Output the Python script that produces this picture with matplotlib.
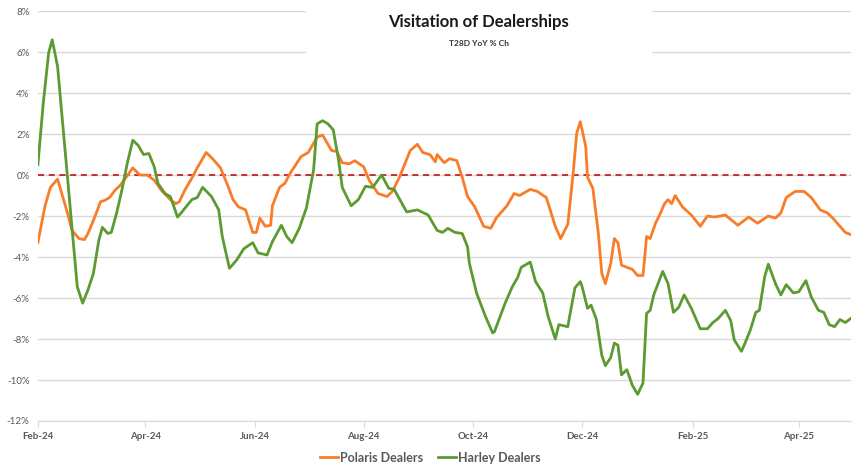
import numpy as np
import pandas as pd
import matplotlib
matplotlib.use("Agg")
import matplotlib.pyplot as plt
import matplotlib.dates as mdates
from matplotlib.patches import Rectangle

plt.rcParams['font.family'] = ['Lato', 'DejaVu Sans']

start = pd.Timestamp("2024-02-01")

# days since 2024-02-01, YoY % change (T28D)
polaris_day = [0, 4, 7, 11, 13, 17, 19, 23, 26, 28, 32, 35, 37, 40, 43, 46, 49, 53, 57, 61,
               65, 69, 74, 77, 79, 82, 86, 89, 94, 97, 102, 106, 109, 112, 116, 120, 122, 124,
               127, 130, 131, 135, 138, 141, 147, 151, 156, 159, 164, 167, 170, 174, 177, 182,
               185, 190, 195, 198, 202, 208, 212, 215, 219, 222, 223, 227, 230, 234, 237, 240,
               244, 249, 253, 256, 262, 266, 269, 275, 279, 284, 289, 292, 296, 299, 301, 303,
               306, 307, 310, 313, 315, 317, 320, 322, 324, 326, 329, 332, 335, 338, 340, 342,
               345, 347, 350, 352, 354, 356, 360, 365, 370, 374, 378, 384, 391, 397, 402, 408,
               412, 415, 418, 423, 428, 432, 437, 441, 444, 448, 451, 454]
polaris_val = [-3.3, -1.5, -0.6, -0.2, -0.8, -2.0, -2.7, -3.1, -3.15, -2.85, -2.0, -1.3, -1.25,
               -1.1, -0.75, -0.5, -0.15, 0.35, 0.0, 0.0, -0.25, -0.75, -1.2, -1.4, -1.3, -0.75,
               -0.15, 0.35, 1.1, 0.85, 0.35, -0.5, -1.2, -1.55, -1.7, -2.8, -2.8, -2.1, -2.5,
               -2.45, -1.5, -0.6, -0.4, 0.1, 0.9, 1.1, 1.85, 1.95, 1.2, 1.15, 0.6, 0.55, 0.7,
               0.4, -0.25, -0.9, -1.05, -0.8, -0.1, 1.2, 1.5, 1.1, 1.0, 0.65, 1.0, 0.6, 0.8,
               0.7, -0.1, -1.05, -1.55, -2.5, -2.6, -2.1, -1.5, -0.9, -1.0, -0.7, -0.8, -1.1,
               -2.5, -3.1, -2.4, 0.1, 2.05, 2.6, 1.4, -0.1, -0.65, -2.8, -4.8, -5.3, -4.3, -3.1,
               -3.3, -4.4, -4.5, -4.6, -4.9, -4.9, -3.0, -3.1, -2.35, -2.0, -1.4, -1.2, -1.4,
               -1.0, -1.55, -1.95, -2.5, -2.0, -2.05, -1.95, -2.45, -2.05, -2.35, -2.0, -2.1,
               -1.85, -1.1, -0.8, -0.8, -1.1, -1.7, -1.85, -2.1, -2.5, -2.8, -2.9]

harley_day = [0, 3, 6, 8, 11, 14, 17, 20, 22, 25, 28, 31, 34, 36, 39, 41, 44, 47, 50, 53, 56,
              59, 62, 65, 67, 71, 74, 78, 80, 86, 89, 92, 97, 101, 103, 107, 111, 115, 120, 123,
              128, 131, 136, 139, 142, 146, 150, 154, 156, 159, 162, 165, 168, 170, 175, 179,
              183, 187, 192, 196, 199, 206, 212, 218, 223, 226, 229, 233, 237, 240, 241, 245,
              250, 254, 255, 261, 265, 268, 270, 275, 278, 282, 285, 289, 291, 296, 297, 300,
              303, 304, 307, 309, 312, 315, 317, 320, 322, 324, 326, 329, 332, 335, 338, 340,
              342, 344, 349, 352, 355, 358, 361, 365, 370, 374, 377, 380, 384, 387, 389, 393,
              395, 398, 401, 403, 406, 408, 412, 415, 418, 422, 425, 429, 432, 436, 439, 442,
              445, 448, 451, 454]
harley_val = [0.5, 3.5, 5.95, 6.6, 5.3, 2.35, -0.6, -3.5, -5.45, -6.25, -5.6, -4.8, -3.2, -2.55,
              -2.85, -2.8, -1.85, -0.7, 0.6, 1.7, 1.45, 1.0, 1.05, 0.4, -0.4, -0.9, -1.05, -2.05,
              -1.85, -1.2, -1.1, -0.6, -1.05, -1.7, -3.0, -4.55, -4.15, -3.6, -3.3, -3.8, -3.9,
              -3.25, -2.45, -3.0, -3.3, -2.6, -1.6, 0.25, 2.5, 2.65, 2.5, 2.2, 0.7, -0.6, -1.5,
              -1.2, -0.55, -0.6, 0.0, -0.65, -0.7, -1.8, -1.7, -1.95, -2.7, -2.8, -2.6, -2.8,
              -2.85, -3.5, -4.3, -5.75, -6.9, -7.7, -7.65, -6.25, -5.45, -5.0, -4.5, -4.25, -5.2,
              -5.75, -6.9, -8.0, -7.3, -7.4, -6.9, -5.5, -5.2, -5.45, -6.5, -6.35, -7.05, -8.8,
              -9.3, -8.9, -8.2, -8.3, -9.75, -9.5, -10.25, -10.7, -10.15, -6.75, -6.6, -5.85,
              -4.7, -5.3, -6.7, -6.45, -5.85, -6.5, -7.5, -7.5, -7.2, -7.0, -6.6, -7.1, -8.05,
              -8.6, -8.2, -7.55, -6.7, -6.6, -4.95, -4.35, -5.3, -5.85, -5.35, -5.75, -5.7,
              -5.15, -5.95, -6.6, -6.7, -7.3, -7.4, -7.05, -7.2, -7.0]

polaris_dates = start + pd.to_timedelta(polaris_day, unit="D")
harley_dates = start + pd.to_timedelta(harley_day, unit="D")

fig = plt.figure(figsize=(8.61, 4.75), dpi=100)
ax = fig.add_axes([0.044, 0.1137, 0.944, 0.863])

ax.plot(polaris_dates, polaris_val, color="#f97d28", lw=2.0, label="Polaris Dealers", zorder=4)
ax.plot(harley_dates, harley_val, color="#5c9a32", lw=2.0, label="Harley Dealers", zorder=5)
ax.axhline(0, color="#c00000", lw=1.1, ls=(0, (4, 3)), zorder=3)

ax.set_ylim(-12, 8)
ax.set_yticks(np.arange(-12, 9, 2))
ax.yaxis.set_major_formatter(matplotlib.ticker.FuncFormatter(lambda v, p: f"{v:.0f}%"))
ax.set_xlim(start, start + pd.Timedelta(days=454))
ax.xaxis.set_major_locator(mdates.MonthLocator(bymonth=[2, 4, 6, 8, 10, 12]))
ax.xaxis.set_major_formatter(mdates.DateFormatter("%b-%y"))

ax.grid(axis="y", color="#d9d9d9", lw=1.0, zorder=0)
ax.set_axisbelow(True)
for s in ["top", "right", "left"]:
    ax.spines[s].set_visible(False)
ax.spines["bottom"].set_color("#d9d9d9")
ax.tick_params(axis="y", length=0, labelsize=7, labelcolor="#595959", pad=6)
ax.tick_params(axis="x", length=4, color="#d9d9d9", labelsize=7, labelcolor="#595959", pad=4)
for lab in ax.get_xticklabels():
    lab.set_fontweight("bold")

# white box behind the title
ax.add_patch(Rectangle((0.33, 0.85), 0.425, 0.17, transform=ax.transAxes,
                       facecolor="white", edgecolor="none", zorder=2, clip_on=False))
fig.text(0.556, 0.953, "Visitation of Dealerships", ha="center", va="center",
         fontsize=12, fontweight="bold", color="#1a1a1a")
fig.text(0.556, 0.908, "T28D YoY % Ch", ha="center", va="center",
         fontsize=6, fontweight="bold", color="#333333")

fig.legend(loc="lower center", bbox_to_anchor=(0.5, 0.0), ncol=2, frameon=False,
           prop={"size": 9, "weight": "bold"}, labelcolor="#595959",
           handlelength=1.4, handletextpad=0.2, columnspacing=1.2)

fig.savefig("out.png", dpi=100)
